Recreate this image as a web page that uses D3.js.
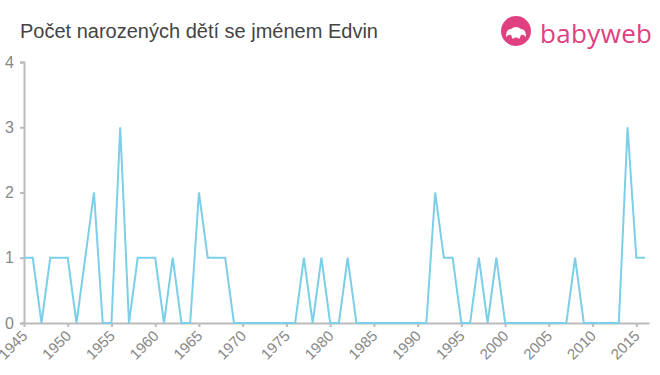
<!DOCTYPE html>
<html>
<head>
<meta charset="utf-8">
<script src="https://cdn.jsdelivr.net/npm/d3@7"></script>
<style>
  body { margin: 0; background: #fff; }
  text { font-family: "Liberation Sans", Arial, sans-serif; }
</style>
</head>
<body>
<div id="chart"></div>
<script>
// years and counts
var years = d3.range(1945, 2017);
var counts = [
  1, 1, 0, 1, 1, 1, 0, 1, 2, 0,   // 1945-1954
  0, 3, 0, 1, 1, 1, 0, 1, 0, 0,   // 1955-1964
  2, 1, 1, 1, 0, 0, 0, 0, 0, 0,   // 1965-1974
  0, 0, 1, 0, 1, 0, 0, 1, 0, 0,   // 1975-1984
  0, 0, 0, 0, 0, 0, 0, 2, 1, 1,   // 1985-1994
  0, 0, 1, 0, 1, 0, 0, 0, 0, 0,   // 1995-2004
  0, 0, 0, 1, 0, 0, 0, 0, 0, 3,   // 2005-2014
  1, 1                            // 2015-2016
];
var xTicks = d3.range(1945, 2016, 5);
var yTicks = [0, 1, 2, 3, 4];

var width = 660, height = 375;
var margin = {top: 62, right: 11, bottom: 52, left: 24};

var data = years.map((y, i) => ({year: y, value: counts[i]}));

var x = d3.scaleLinear().domain([1945, 2016.45]).range([margin.left, width - margin.right]);
var y = d3.scaleLinear().domain([0, 4]).range([height - margin.bottom, margin.top]);

var svg = d3.select("#chart").append("svg")
    .attr("width", width)
    .attr("height", height);

// title
svg.append("text")
    .attr("x", 20)
    .attr("y", 38)
    .style("font-size", "20px")
    .style("fill", "#444")
    .text("Počet narozených dětí se jménem Edvin");

// logo
var logo = svg.append("g").attr("transform", "translate(516, 31)");
logo.append("circle").attr("r", 15).attr("fill", "#e0407f");
logo.append("path")
    .attr("d", "M-10,6 Q-10,-2 -5,-2 Q0,-6 5,-2 Q10,-2 10,6 Q7,3 5,4 Q3,10 0,10 Q-3,10 -5,4 Q-7,3 -10,6 Z")
    .attr("fill", "#fff");
logo.append("circle").attr("cx", 0).attr("cy", 10).attr("r", 3.5).attr("fill", "#e0407f");
svg.append("text")
    .attr("x", 540)
    .attr("y", 43)
    .attr("textLength", 112)
    .style("font-size", "26px")
    .style("font-weight", "500")
    .style("fill", "#e0407f")
    .style("font-family", "'Open Sans', sans-serif")
    .text("babyweb");

// y axis
var yAxis = svg.append("g")
    .attr("transform", `translate(${margin.left}, 0)`)
    .call(d3.axisLeft(y).tickValues(yTicks).tickSize(4).tickPadding(6).tickFormat(d3.format("d")));
yAxis.select(".domain").attr("stroke", "#bbb").attr("stroke-width", 2);
yAxis.selectAll(".tick line").attr("stroke", "#bbb").attr("stroke-width", 2);
yAxis.selectAll(".tick text")
    .style("font-size", "16px")
    .style("fill", "#888")
    .style("font-family", "'Liberation Sans', Arial, sans-serif");

// x axis, labels turned 45 degrees
var xAxis = svg.append("g")
    .attr("transform", `translate(0, ${height - margin.bottom})`)
    .call(d3.axisBottom(x).tickValues(xTicks).tickSize(4).tickSizeOuter(0).tickFormat(d3.format("d")));
xAxis.select(".domain").attr("stroke", "#bbb").attr("stroke-width", 2);
xAxis.selectAll(".tick line").attr("stroke", "#bbb").attr("stroke-width", 2);
xAxis.selectAll(".tick text")
    .style("font-size", "15px")
    .style("fill", "#888")
    .style("font-family", "'Liberation Sans', Arial, sans-serif")
    .style("text-anchor", "end")
    .attr("x", -7)
    .attr("dy", "0")
    .attr("y", 12.5)
    .attr("transform", "rotate(-45)");

// line
var line = d3.line()
    .x(d => x(d.year))
    .y(d => y(d.value));

svg.append("path")
    .datum(data)
    .attr("fill", "none")
    .attr("stroke", "#7ccfe8")
    .attr("stroke-width", 2)
    .attr("d", line);
</script>
</body>
</html>
